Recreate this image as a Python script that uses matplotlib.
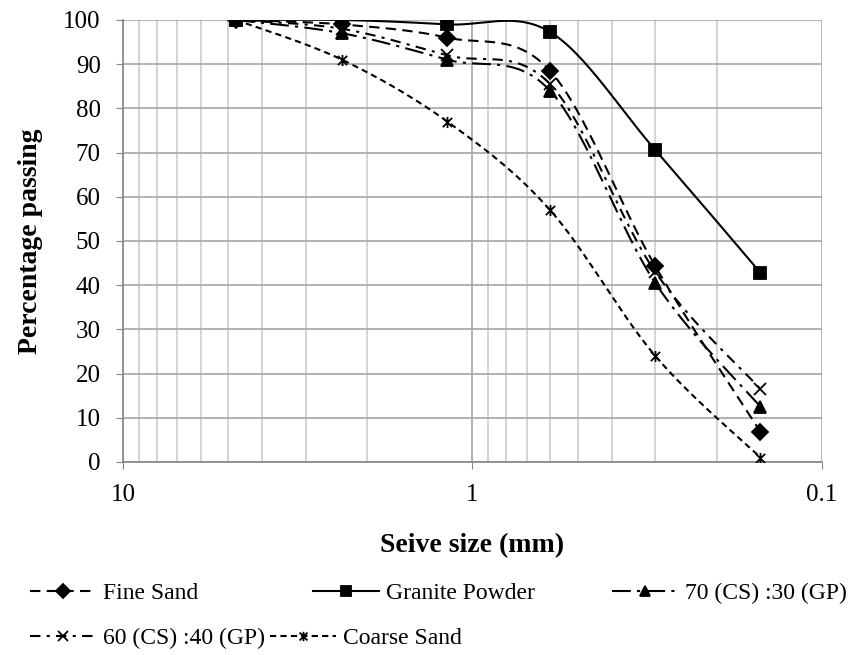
import numpy as np
from matplotlib import pyplot as plt
from matplotlib.path import Path
from matplotlib.ticker import FixedLocator, NullFormatter

plt.rcParams['font.family'] = ['Liberation Serif', 'DejaVu Serif']

sieve = [4.75, 2.36, 1.18, 0.6, 0.3, 0.15]  # mm
fine_sand = [100, 99, 96, 88.5, 44.3, 6.8]
granite = [100, 100, 99, 97.3, 70.6, 42.8]
cs70_gp30 = [100, 97, 91, 84, 40.5, 12.5]
cs60_gp40 = [100, 98, 92, 85.5, 43, 16.5]
coarse_sand = [100, 91, 77, 57, 24, 1]

# excel-like "star" marker: x with a vertical bar
star = Path([(-1, -1), (1, 1), (-1, 1), (1, -1), (0, -1.2), (0, 1.2)],
            [Path.MOVETO, Path.LINETO, Path.MOVETO, Path.LINETO, Path.MOVETO, Path.LINETO])


def smooth(x, y, n=30):
    # catmull-rom bezier through the points in log-x space (excel "smoothed line")
    u = np.log10(np.array(x, float))
    v = np.array(y, float)
    pu = np.concatenate([[u[0]], u, [u[-1]]])
    pv = np.concatenate([[v[0]], v, [v[-1]]])
    t = np.linspace(0, 1, n)[:, None]
    segs = []
    for i in range(1, len(pu) - 2):
        p0, p1, p2, p3 = [np.array([pu[k], pv[k]]) for k in (i - 1, i, i + 1, i + 2)]
        c1 = p1 + (p2 - p0) / 6
        c2 = p2 - (p3 - p1) / 6
        segs.append((1 - t)**3 * p1 + 3 * (1 - t)**2 * t * c1 + 3 * (1 - t) * t**2 * c2 + t**3 * p2)
    b = np.vstack(segs)
    return 10 ** b[:, 0], b[:, 1]


series = [
    ("Fine Sand", fine_sand, (0, (5, 3)), "D", 8),
    ("Granite Powder", granite, "-", "s", 9),
    ("70 (CS) :30 (GP)", cs70_gp30, (0, (9, 3, 1.5, 3)), "^", 8.5),
    ("60 (CS) :40 (GP)", cs60_gp40, (0, (5, 3, 1.5, 3)), "x", 8.5),
    ("Coarse Sand", coarse_sand, (0, (3, 2)), star, 8),
]

fig = plt.figure(figsize=(8.63, 6.55), dpi=100)
ax = fig.add_axes([0.1425, 0.2947, 0.81, 0.6748])

handles = {}
for name, vals, ls, mk, ms in series:
    sx, sy = smooth(sieve, vals)
    ax.plot(sx, sy, color="black", lw=1.5, ls=ls, zorder=3)
    ax.plot(sieve, vals, ls="none", marker=mk, ms=ms, color="black",
            mec="black", mew=1.3, zorder=4)
    h, = ax.plot([], [], color="black", lw=1.5, ls=ls, marker=mk, ms=ms * 0.85, mew=1.3)
    handles[name] = h

ax.set_xscale("log")
ax.set_xlim(10, 0.1)
ax.set_ylim(0, 100)
ax.set_yticks(np.arange(0, 101, 10))
ax.xaxis.set_major_locator(FixedLocator([10, 1, 0.1]))
ax.set_xticklabels(["10", "1", "0.1"])
minors = [v * d for d in (0.1, 1) for v in range(2, 10)]
ax.xaxis.set_minor_locator(FixedLocator(minors))
ax.xaxis.set_minor_formatter(NullFormatter())
ax.grid(True, which="major", color="#a6a6a6", lw=1.2)
ax.grid(True, which="minor", axis="x", color="#cccccc", lw=1.2)
ax.set_axisbelow(True)
for s in ("top", "right"):
    ax.spines[s].set_visible(False)
for s in ("left", "bottom"):
    ax.spines[s].set_color("#868686")
    ax.spines[s].set_linewidth(1.2)
ax.tick_params(which="major", direction="out", length=5, color="#868686", labelsize=18, pad=11)
ax.tick_params(which="minor", length=0)

ax.set_xlabel("Seive size (mm)", fontsize=20, fontweight="bold")
ax.set_ylabel("Percentage passing", fontsize=20, fontweight="bold")
ax.xaxis.set_label_coords(0.5, -0.16)
ax.yaxis.set_label_coords(-0.115, 0.5)

# legend entries laid out like excel's flowing legend
entries = [("Fine Sand", 30, 593), ("Granite Powder", 313, 593), ("70 (CS) :30 (GP)", 612, 593),
           ("60 (CS) :40 (GP)", 30, 638), ("Coarse Sand", 270, 638)]
W, H = 863, 655
for name, px, py in entries:
    fig.legend([handles[name]], [name], loc="center left",
               bbox_to_anchor=(px / W, 1 - py / H), frameon=False, fontsize=17,
               handlelength=2.8, handletextpad=0.3, borderpad=0, borderaxespad=0)

fig.savefig("out.png", dpi=100)
